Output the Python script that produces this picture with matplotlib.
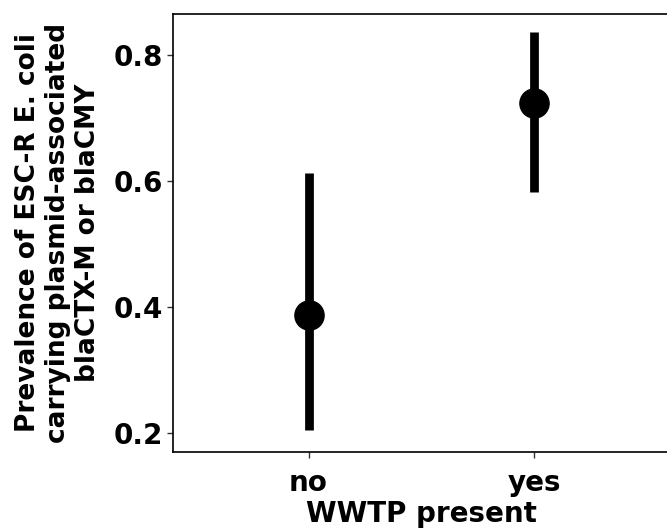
import matplotlib
matplotlib.use("Agg")
import matplotlib.pyplot as plt

# Prevalence estimates with 95% intervals by WWTP presence
categories = ["no", "yes"]
estimate = [0.387, 0.724]
lower = [0.205, 0.583]
upper = [0.613, 0.837]
yticks = [0.2, 0.4, 0.6, 0.8]

plt.rcParams["font.family"] = ["DejaVu Sans"]
plt.rcParams["font.weight"] = "bold"

fig = plt.figure(figsize=(6.67, 5.30), dpi=100)
ax = fig.add_axes([173 / 667, 1 - 452 / 530, 497 / 667, (452 - 14) / 530])

xpos = list(range(1, len(categories) + 1))
for x, e, lo, hi in zip(xpos, estimate, lower, upper):
    ax.plot([x, x], [lo, hi], color="black", lw=6.3, solid_capstyle="butt", zorder=2)
ax.plot(xpos, estimate, "o", color="black", markersize=21, zorder=3)

ax.set_xlim(0.4, 2.6)
ax.set_ylim(0.17, 0.865)
ax.set_xticks(xpos)
ax.set_xticklabels(categories)
ax.set_yticks(yticks)
ax.set_yticklabels([f"{t:.1f}" for t in yticks])

for s in ax.spines.values():
    s.set_linewidth(1.2)
    s.set_color("black")

ax.tick_params(axis="both", length=4, width=1, color="#333333",
               labelsize=20, labelcolor="black")
ax.tick_params(axis="y", pad=3)
ax.tick_params(axis="x", pad=8)
for lab in ax.get_xticklabels() + ax.get_yticklabels():
    lab.set_fontweight("bold")

ax.set_ylabel("Prevalence of ESC-R E. coli\ncarrying plasmid-associated\nblaCTX-M or blaCMY",
              fontsize=19, fontweight="bold", linespacing=1.22, labelpad=9)
ax.set_xlabel("WWTP present", fontsize=20, fontweight="bold", labelpad=2.5)

fig.savefig("out.png", dpi=100)
